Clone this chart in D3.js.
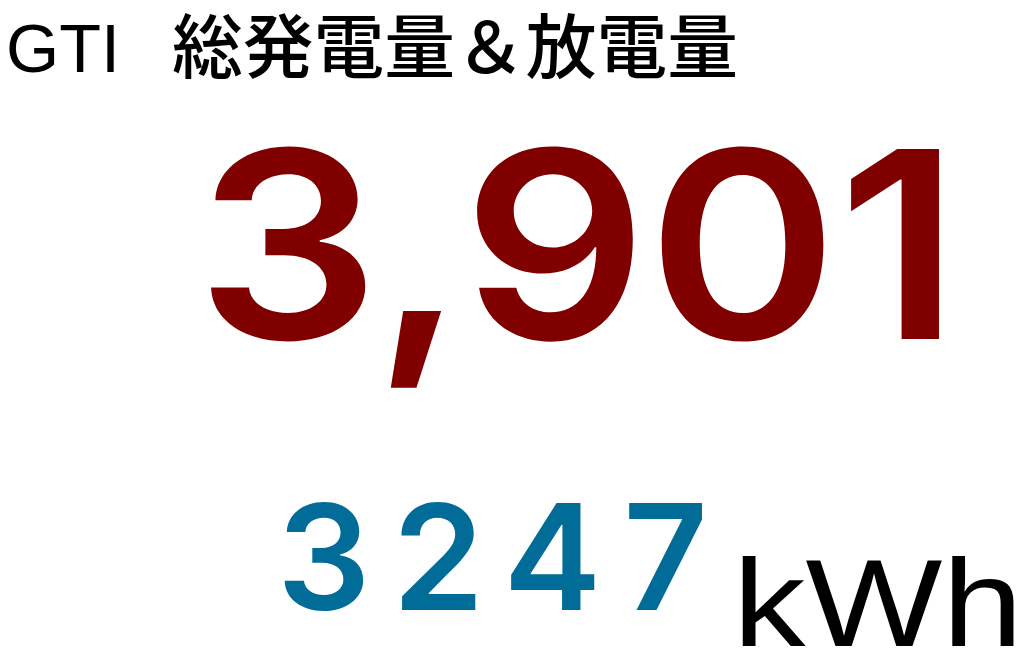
<!DOCTYPE html>
<html>
<head>
<meta charset="utf-8">
<script src="https://cdn.jsdelivr.net/npm/d3@7"></script>
<style>
  html, body { margin: 0; padding: 0; background: #fff; overflow: hidden; }
</style>
</head>
<body>
<script>
let width = 1029;
let height = 656;

// values shown on the panel
const titleParts = ['GTI', '総発電量＆放電量'];
const totalGeneration = [3901];
const totalDischarge = [3247];
const unitLabel = ['kWh'];

let svg = d3.select('body').append('svg')
	.attr('width', width)
	.attr('height', height)
	.style('background-color', '#ffffff');

// title
svg.append('text')
	.attr('x', 6)
	.attr('y', 72)
	.attr('textLength', 114)
	.attr('lengthAdjust', 'spacingAndGlyphs')
	.style('font-family', '"Liberation Sans", Arial, sans-serif')
	.style('font-size', '68px')
	.style('fill', '#000')
	.text(titleParts[0]);

svg.append('text')
	.attr('x', 172)
	.attr('y', 73)
	.attr('textLength', 566)
	.attr('lengthAdjust', 'spacingAndGlyphs')
	.style('font-family', '"Noto Sans CJK JP", sans-serif')
	.style('font-weight', 500)
	.style('font-size', '70px')
	.style('fill', '#000')
	.text(titleParts[1]);

// big number
svg.selectAll('.big')
	.data(totalGeneration)
	.enter().append('text')
	.attr('class', 'big')
	.attr('x', 196)
	.attr('y', 339)
	.attr('textLength', 764)
	.attr('lengthAdjust', 'spacingAndGlyphs')
	.style('font-family', 'Inter, sans-serif')
	.style('font-weight', 600)
	.style('font-size', '261px')
	.style('fill', '#800000')
	.text(d => d3.format(',')(d));

// second number
svg.selectAll('.second')
	.data(totalDischarge)
	.enter().append('text')
	.attr('class', 'second')
	.attr('x', 277)
	.attr('y', 610)
	.attr('textLength', 431)
	.attr('lengthAdjust', 'spacing')
	.style('font-family', 'Inter, sans-serif')
	.style('font-weight', 600)
	.style('font-size', '147px')
	.style('fill', '#006c97')
	.text(d => String(d));

// unit
svg.append('text')
	.attr('x', 733)
	.attr('y', 646)
	.attr('textLength', 290)
	.attr('lengthAdjust', 'spacingAndGlyphs')
	.style('font-family', '"Liberation Sans", Arial, sans-serif')
	.style('font-size', '124px')
	.style('fill', '#000')
	.text(unitLabel[0]);
</script>
</body>
</html>
